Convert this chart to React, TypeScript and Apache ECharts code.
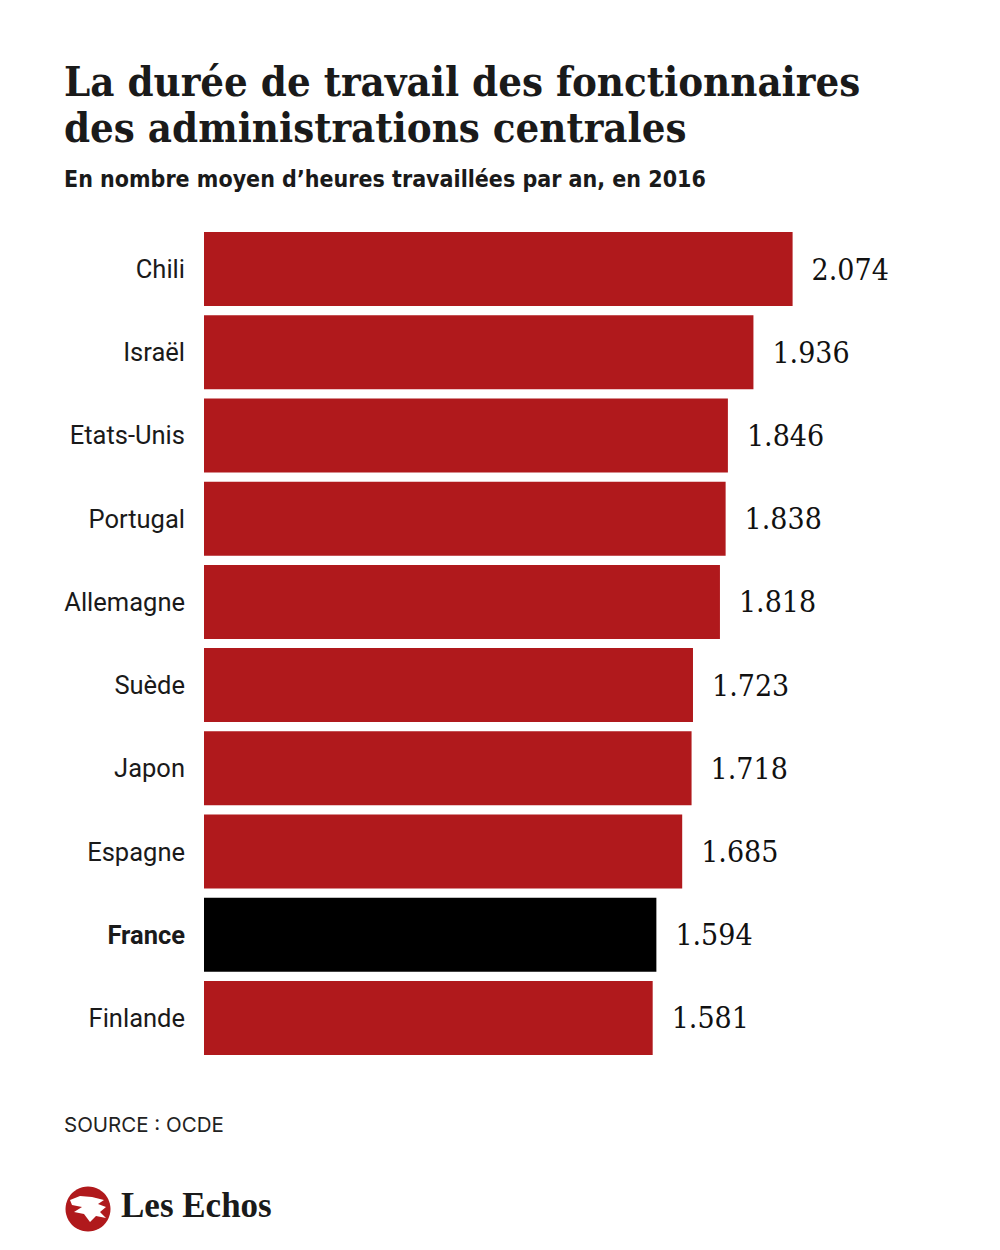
import React, { useEffect, useRef } from "react";
import * as echarts from "echarts";

const countries = ["Chili", "Israël", "Etats-Unis", "Portugal", "Allemagne", "Suède", "Japon", "Espagne", "France", "Finlande"];
const hours = [2074, 1936, 1846, 1838, 1818, 1723, 1718, 1685, 1594, 1581];
const highlight = "France";

const titleLines = ["La durée de travail des fonctionnaires", "des administrations centrales"];
const subtitle = "En nombre moyen d’heures travaillées par an, en 2016";
const source = "SOURCE : OCDE";

const RED = "#B0191C";

function fmt(v: number): string {
  const s = String(v);
  return s.length > 3 ? s.slice(0, s.length - 3) + "." + s.slice(s.length - 3) : s;
}

export default function App() {
  const ref = useRef<HTMLDivElement>(null);
  useEffect(() => {
    document.body.style.margin = "0";
    const chart = echarts.init(ref.current!, null, { renderer: "svg" });
    const option = {
      animation: false,
      backgroundColor: "#ffffff",
      grid: { left: 204, top: 227.4, height: 832.2, right: 86.5, containLabel: false },
      xAxis: {
        type: "value",
        min: 0,
        max: 2500,
        show: false,
      },
      yAxis: {
        type: "category",
        inverse: true,
        data: countries.map((c) =>
          c === highlight ? { value: c, textStyle: { fontWeight: "bold" } } : c
        ),
        axisLine: { show: false },
        axisTick: { show: false },
        splitLine: { show: false },
        axisLabel: {
          margin: 19,
          fontSize: 25.5,
          color: "#1a1a1a",
          fontFamily: "Roboto",
        },
      },
      series: [
        {
          type: "bar",
          barWidth: 74,
          data: countries.map((c, i) => ({
            value: hours[i],
            itemStyle: { color: c === highlight ? "#000000" : RED },
          })),
          label: {
            show: true,
            position: "right",
            distance: 19,
            fontSize: 30,
            color: "#111111",
            fontFamily: "DejaVu Serif Condensed",
            formatter: (p: any) => fmt(p.value),
          },
        },
      ],
      graphic: [
        {
          type: "text",
          left: 64,
          top: 60,
          style: {
            text: titleLines[0],
            font: "bold 41.5px 'DejaVu Serif Condensed'",
            fill: "#1a1a1a",
          },
        },
        {
          type: "text",
          left: 64,
          top: 106,
          style: {
            text: titleLines[1],
            font: "bold 41.5px 'DejaVu Serif Condensed'",
            fill: "#1a1a1a",
          },
        },
        {
          type: "text",
          left: 64,
          top: 167,
          style: {
            text: subtitle,
            font: "bold 23px 'DejaVu Sans Condensed'",
            fill: "#1a1a1a",
          },
        },
        {
          type: "text",
          left: 64,
          top: 1114,
          style: {
            text: source,
            font: "20.5px Inter",
            fill: "#222222",
          },
        },
        {
          type: "circle",
          shape: { cx: 88, cy: 1209, r: 22.5 },
          style: { fill: RED },
        },
        {
          type: "polygon",
          shape: {
            points: [
              [70, 1200], [80, 1196], [92, 1197], [104, 1200], [98, 1204], [106, 1207],
              [100, 1212], [106, 1218], [96, 1216], [90, 1222], [84, 1214], [74, 1212],
              [82, 1207], [72, 1205],
            ],
          },
          style: { fill: "#ffffff" },
        },
        {
          type: "text",
          left: 121,
          top: 1188,
          style: {
            text: "Les Echos",
            font: "bold 35px 'Liberation Serif'",
            fill: "#1a1a1a",
          },
        },
      ],
    };
    chart.setOption(option as any);
    return () => chart.dispose();
  }, []);
  return <div ref={ref} style={{ width: 1000, height: 1250 }} />;
}
